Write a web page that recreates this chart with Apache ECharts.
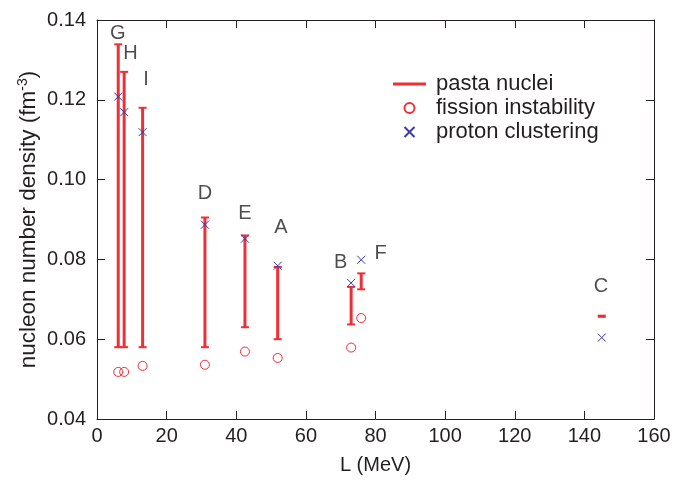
<!DOCTYPE html>
<html>
<head>
<meta charset="utf-8">
<script src="https://cdn.jsdelivr.net/npm/echarts@6/dist/echarts.min.js"></script>
<style>
  html, body { margin: 0; padding: 0; background: #fff; }
  #chart { width: 690px; height: 480px; }
</style>
</head>
<body>
<div id="chart"></div>
<script>
// Parameter sets and their slope parameter L (MeV)
const names = ['G', 'H', 'I', 'D', 'E', 'A', 'B', 'F', 'C'];
const slopeL = [6.1, 7.8, 13.1, 31.0, 42.5, 51.9, 73.0, 75.9, 145.0];

// Density range where pasta nuclei appear (fm^-3)
const pastaLow  = [0.0580, 0.0580, 0.0580, 0.0580, 0.0630, 0.0600, 0.0637, 0.0725, 0.0656];
const pastaHigh = [0.1339, 0.1270, 0.1180, 0.0905, 0.0860, 0.0781, 0.0731, 0.0765, 0.0659];

// Onset densities of fission instability and proton clustering
const fission = [0.0518, 0.0518, 0.0533, 0.0536, 0.0569, 0.0553, 0.0579, 0.0653, null];
const proton  = [0.1208, 0.1169, 0.1119, 0.0887, 0.0852, 0.0784, 0.0741, 0.0799, 0.0604];

// Where each parameter-set letter sits (L, density)
const labelL = [6.0, 9.6, 14.1, 31.0, 42.5, 52.8, 70.0, 81.5, 144.8];
const labelD = [0.1367, 0.1317, 0.1252, 0.0964, 0.0916, 0.0879, 0.0792, 0.0814, 0.0732];

// Axis ticks
const xTicks = [0, 20, 40, 60, 80, 100, 120, 140, 160];
const yTicks = [0.04, 0.06, 0.08, 0.10, 0.12, 0.14];

const RED = '#ee2f37';
const BLUE = '#3b3ba3';
const INK = '#231f20';
const FONT = 'Liberation Sans, Arial, Helvetica, sans-serif';

const pastaData = slopeL.map((l, i) => [l, pastaLow[i], pastaHigh[i]]);
const fissionData = slopeL.map((l, i) => [l, fission[i]]).filter(p => p[1] !== null);
const protonData = slopeL.map((l, i) => [l, proton[i]]);
const labelData = names.map((n, i) => ({ name: n, value: [labelL[i], labelD[i]] }));

// Vertical range bar with short caps at both ends
function renderBar(params, api) {
  const x = api.value(0);
  const lo = api.coord([x, api.value(1)]);
  const hi = api.coord([x, api.value(2)]);
  const capHalf = 4;
  const style = { stroke: RED, lineWidth: 2 };
  return {
    type: 'group',
    children: [
      { type: 'line', shape: { x1: lo[0], y1: lo[1], x2: hi[0], y2: hi[1] },
        style: { stroke: RED, lineWidth: 3 } },
      { type: 'line', shape: { x1: hi[0] - capHalf, y1: hi[1], x2: hi[0] + capHalf, y2: hi[1] }, style },
      { type: 'line', shape: { x1: lo[0] - capHalf, y1: lo[1], x2: lo[0] + capHalf, y2: lo[1] }, style }
    ]
  };
}

const axisCommon = {
  axisLine: { show: true, onZero: false, lineStyle: { color: INK, width: 1 } },
  axisTick: { show: true, inside: true, length: 8, lineStyle: { color: INK, width: 1 } },
  splitLine: { show: false }
};

const chart = echarts.init(document.getElementById('chart'));
chart.setOption({
  animation: false,
  backgroundColor: '#fff',
  textStyle: { fontFamily: FONT },
  grid: { left: 97, right: 36, top: 20, bottom: 59 },
  xAxis: [
    Object.assign({
      type: 'value', min: xTicks[0], max: xTicks[xTicks.length - 1], interval: 20,
      position: 'bottom',
      name: 'L (MeV)', nameLocation: 'middle', nameGap: 36, nameMoveOverlap: false,
      nameTextStyle: { fontSize: 20, color: INK, fontFamily: FONT },
      axisLabel: { fontSize: 20, color: INK, margin: 7, fontFamily: FONT }
    }, axisCommon),
    Object.assign({
      type: 'value', min: xTicks[0], max: xTicks[xTicks.length - 1], interval: 20,
      position: 'top', axisLabel: { show: false }
    }, axisCommon)
  ],
  yAxis: [
    Object.assign({
      type: 'value', min: yTicks[0], max: yTicks[yTicks.length - 1], interval: 0.02,
      position: 'left',
      name: 'nucleon number density (fm{sup|-3})', nameLocation: 'middle', nameGap: 56,
      nameMoveOverlap: false,
      nameTextStyle: {
        fontSize: 22.5, color: INK, fontFamily: FONT,
        rich: { sup: { fontSize: 14, color: INK, fontFamily: FONT, verticalAlign: 'top', padding: [0, 0, 11, 0] } }
      },
      axisLabel: { fontSize: 20, color: INK, margin: 11, fontFamily: FONT,
                   formatter: v => v.toFixed(2) }
    }, axisCommon),
    Object.assign({
      type: 'value', min: yTicks[0], max: yTicks[yTicks.length - 1], interval: 0.02,
      position: 'right', axisLabel: { show: false }
    }, axisCommon)
  ],
  legend: {
    orient: 'vertical', left: 393, top: 73, padding: 0,
    itemWidth: 33, itemHeight: 10, itemGap: 2,
    textStyle: { fontSize: 22, lineHeight: 20, color: INK, fontFamily: FONT, padding: [0, 0, 0, 5] },
    selectedMode: false,
    data: [
      { name: 'pasta nuclei', icon: 'path://M0,0H34V3H0Z' },
      { name: 'fission instability' },
      { name: 'proton clustering' }
    ]
  },
  series: [
    {
      name: 'pasta nuclei', type: 'custom', renderItem: renderBar,
      itemStyle: { color: RED },
      encode: { x: 0, y: [1, 2] },
      data: pastaData, z: 2
    },
    {
      name: 'fission instability', type: 'scatter', symbol: 'circle', symbolSize: 9,
      itemStyle: { color: 'rgba(0,0,0,0)', borderColor: RED, borderWidth: 1, opacity: 1 },
      data: fissionData, z: 3
    },
    {
      name: 'proton clustering', type: 'scatter',
      symbol: 'path://M0,0L10,10M10,0L0,10', symbolSize: 8,
      itemStyle: { color: 'none', borderColor: BLUE, borderWidth: 1, opacity: 1 },
      data: protonData, z: 4
    },
    {
      name: 'set labels', type: 'scatter', symbolSize: 0, silent: true,
      label: { show: true, position: 'inside', formatter: p => p.name,
               fontSize: 20, color: INK, fontFamily: FONT },
      data: labelData, z: 5
    }
  ]
});
</script>
</body>
</html>
